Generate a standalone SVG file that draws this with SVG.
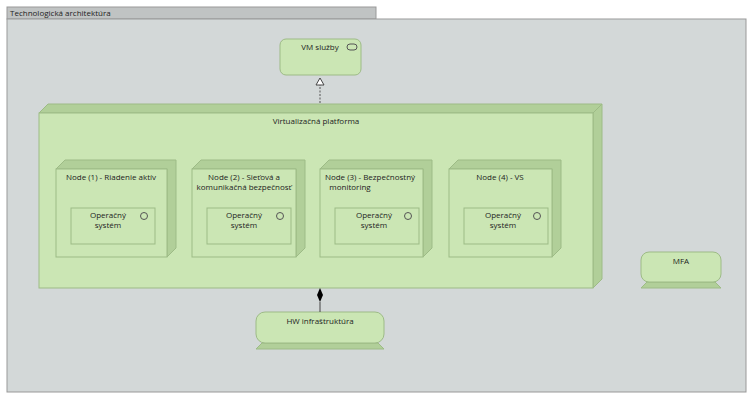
<svg xmlns="http://www.w3.org/2000/svg" width="753" height="400" viewBox="0 0 753 400">
<style>
text{font-family:"Open Sans","Liberation Sans",sans-serif;font-size:8px;fill:#222}
.f{fill:#cbe6b4;stroke:#9dbb86;stroke-width:1}
.d{fill:#b1cf99;stroke:#9dbb86;stroke-width:1}
.o{fill:none;stroke:#555;stroke-width:1}
</style>
<g id="grp">
<rect x="7" y="7" width="369" height="12" fill="#c0c3c3" stroke="#999"/>
<rect x="7" y="19" width="739" height="373" fill="#d3d8d8" stroke="#999"/>
<text x="10" y="16">Technologická architektúra</text>
</g>
<g id="vm">
<rect class="f" x="280" y="39" width="81" height="36" rx="6"/>
<text x="320" y="50" text-anchor="middle">VM služby</text>
<rect class="o" x="347" y="44" width="10" height="6" rx="3"/>
</g>
<g id="platform">
<polygon class="d" points="39,113 48,104 602,104 602,279 593,288 593,113"/>
<line x1="593" y1="113" x2="602" y2="104" stroke="#9dbb86"/>
<rect class="f" x="39" y="113" width="554" height="175"/>
<text x="316" y="124" text-anchor="middle">Virtualizačná platforma</text>
</g>
<g id="n1">
<polygon class="d" points="56,169 65,160 176,160 176,248 167,257 167,169"/>
<rect class="f" x="56" y="169" width="111" height="88"/>
<text x="111" y="180" text-anchor="middle">Node (1) - Riadenie aktív</text>
<rect class="f" x="71" y="208" width="84" height="36"/>
<text x="108" y="218" text-anchor="middle">Operačný</text><text x="108" y="228" text-anchor="middle">systém</text>
<circle class="o" cx="144" cy="216" r="3.5"/>
</g>
<g id="n2">
<polygon class="d" points="192,169 201,160 305,160 305,248 296,257 296,169"/>
<rect class="f" x="192" y="169" width="104" height="88"/>
<text x="244" y="180" text-anchor="middle">Node (2) - Sieťová a</text>
<text x="244" y="190" text-anchor="middle">komunikačná bezpečnosť</text>
<rect class="f" x="207" y="208" width="84" height="36"/>
<text x="244" y="218" text-anchor="middle">Operačný</text><text x="244" y="228" text-anchor="middle">systém</text>
<circle class="o" cx="280" cy="216" r="3.5"/>
</g>
<g id="n3">
<polygon class="d" points="320,169 329,160 432,160 432,248 423,257 423,169"/>
<rect class="f" x="320" y="169" width="103" height="88"/>
<text x="370" y="180" text-anchor="middle">Node (3) - Bezpečnostný</text>
<text x="350" y="190" text-anchor="middle">monitoring</text>
<rect class="f" x="335" y="208" width="84" height="36"/>
<text x="374" y="218" text-anchor="middle">Operačný</text><text x="374" y="228" text-anchor="middle">systém</text>
<circle class="o" cx="408" cy="216" r="3.5"/>
</g>
<g id="n4">
<polygon class="d" points="449,169 458,160 561,160 561,248 552,257 552,169"/>
<rect class="f" x="449" y="169" width="103" height="88"/>
<text x="500" y="180" text-anchor="middle">Node (4) - VS</text>
<rect class="f" x="464" y="208" width="84" height="36"/>
<text x="503" y="218" text-anchor="middle">Operačný</text><text x="503" y="228" text-anchor="middle">systém</text>
<circle class="o" cx="537" cy="216" r="3.5"/>
</g>
<g id="hw">
<polygon class="d" points="262,343 378,343 384,349 256,349"/>
<rect class="f" x="256" y="312" width="128" height="31" rx="9"/>
<text x="320" y="324" text-anchor="middle">HW infraštruktúra</text>
</g>
<g id="mfa">
<polygon class="d" points="647,282 715,282 721,288 641,288"/>
<rect class="f" x="641" y="252" width="80" height="30" rx="8"/>
<text x="681" y="264" text-anchor="middle">MFA</text>
</g>
<g id="connectors">
<line x1="320" y1="103" x2="320" y2="85" stroke="#555" stroke-dasharray="2,1.5"/>
<polygon points="320,78 316,85 324,85" fill="#fff" stroke="#444"/>
<line x1="320" y1="302" x2="320" y2="312" stroke="#444"/>
<polygon points="320,288 323,295 320,302 317,295" fill="#000"/>
</g>
</svg>
